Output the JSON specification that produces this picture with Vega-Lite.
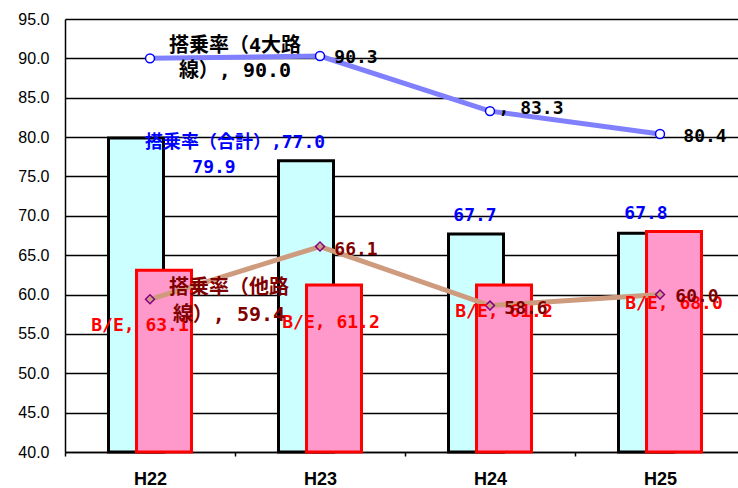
{
  "$schema": "https://vega.github.io/schema/vega-lite/v6.json",
  "autosize": "none",
  "width": 673,
  "height": 433,
  "padding": {"left": 65, "top": 19, "right": 0, "bottom": 36},
  "background": "white",
  "config": {
    "view": {"stroke": null},
    "text": {"font": "DejaVu Sans Mono, Noto Sans CJK JP", "fontSize": 18, "fontWeight": "bold", "baseline": "middle", "align": "center", "lineHeight": 26}
  },
  "data": {
    "values": [
      {"cat": "H22", "series": "合計", "value": 79.9, "label": "79.9"},
      {"cat": "H23", "series": "合計", "value": 77.0, "label": "搭乗率（合計）,77.0"},
      {"cat": "H24", "series": "合計", "value": 67.7, "label": "67.7"},
      {"cat": "H25", "series": "合計", "value": 67.8, "label": "67.8"},
      {"cat": "H22", "series": "B/E", "value": 63.1, "label": "B/E, 63.1"},
      {"cat": "H23", "series": "B/E", "value": 61.2, "label": "B/E, 61.2"},
      {"cat": "H24", "series": "B/E", "value": 61.2, "label": "B/E, 61.2"},
      {"cat": "H25", "series": "B/E", "value": 68.0, "label": "B/E, 68.0"},
      {"cat": "H22", "series": "4大路線", "value": 90.0, "label": ["搭乗率（4大路", "線）, 90.0"]},
      {"cat": "H23", "series": "4大路線", "value": 90.3, "label": "90.3"},
      {"cat": "H24", "series": "4大路線", "value": 83.3, "label": ", 83.3"},
      {"cat": "H25", "series": "4大路線", "value": 80.4, "label": "80.4"},
      {"cat": "H22", "series": "他路線", "value": 59.4, "label": ["搭乗率（他路", "線）, 59.4"]},
      {"cat": "H23", "series": "他路線", "value": 66.1, "label": "66.1"},
      {"cat": "H24", "series": "他路線", "value": 58.6, "label": "58.6"},
      {"cat": "H25", "series": "他路線", "value": 60.0, "label": "60.0"}
    ]
  },
  "encoding": {
    "x": {
      "field": "cat", "type": "nominal", "sort": null,
      "scale": {"range": [0, 680], "paddingInner": 0, "paddingOuter": 0},
      "axis": {
        "title": null, "labelAngle": 0, "labelFont": "Liberation Sans", "labelFontSize": 18, "labelFontWeight": "bold",
        "labelColor": "black", "labelPadding": 14, "domainColor": "black", "domainWidth": 1.5,
        "ticks": true, "tickBand": "extent", "tickSize": 4, "tickColor": "black", "tickWidth": 1.5, "grid": false
      }
    },
    "y": {
      "field": "value", "type": "quantitative",
      "scale": {"domain": [40, 95], "zero": false, "nice": false},
      "axis": {
        "title": null, "values": [40, 45, 50, 55, 60, 65, 70, 75, 80, 85, 90, 95], "format": ".1f",
        "labelFont": "Liberation Sans", "labelFontSize": 16, "labelColor": "black", "labelPadding": 16,
        "ticks": false, "domainColor": "black", "domainWidth": 1.5,
        "grid": true, "gridColor": "black", "gridWidth": 1.5
      }
    }
  },
  "layer": [
    {"transform": [{"filter": "datum.series == '合計'"}],
     "mark": {"type": "bar", "width": 55, "xOffset": -14, "fill": "#CCFFFF", "stroke": "black", "strokeWidth": 3},
     "encoding": {"y2": {"datum": 40}}},
    {"transform": [{"filter": "datum.series == 'B/E'"}],
     "mark": {"type": "bar", "width": 55, "xOffset": 14, "fill": "#FF99CC", "stroke": "#FF0000", "strokeWidth": 3},
     "encoding": {"y2": {"datum": 40}}},
    {"transform": [{"filter": "datum.series == '4大路線'"}],
     "mark": {"type": "line", "color": "#8080FF", "strokeWidth": 5, "strokeCap": "round"},
     "encoding": {}},
    {"transform": [{"filter": "datum.series == '4大路線'"}],
     "mark": {"type": "point", "shape": "circle", "filled": true, "fill": "white", "stroke": "#0000FF", "strokeWidth": 1.5, "size": 80, "opacity": 1},
     "encoding": {}},
    {"transform": [{"filter": "datum.series == '他路線'"}],
     "mark": {"type": "line", "color": "#CF9B7E", "strokeWidth": 5, "strokeCap": "round"},
     "encoding": {}},
    {"transform": [{"filter": "datum.series == '他路線'"}],
     "mark": {"type": "point", "shape": "diamond", "filled": false, "stroke": "#800080", "strokeWidth": 1.5, "size": 80, "opacity": 1},
     "encoding": {}},

    {"transform": [{"filter": "datum.series == '合計' && datum.cat == 'H22'"}],
     "mark": {"type": "text", "color": "#0000FF", "dx": 64, "dy": 30}, "encoding": {"text": {"field": "label"}}},
    {"transform": [{"filter": "datum.series == '合計' && datum.cat == 'H23'"}],
     "mark": {"type": "text", "color": "#0000FF", "dx": -85, "dy": -18}, "encoding": {"text": {"field": "label"}}},
    {"transform": [{"filter": "datum.series == '合計' && datum.cat == 'H24'"}],
     "mark": {"type": "text", "color": "#0000FF", "dx": -15, "dy": -18}, "encoding": {"text": {"field": "label"}}},
    {"transform": [{"filter": "datum.series == '合計' && datum.cat == 'H25'"}],
     "mark": {"type": "text", "color": "#0000FF", "dx": -14, "dy": -19}, "encoding": {"text": {"field": "label"}}},

    {"transform": [{"filter": "datum.series == 'B/E' && datum.cat == 'H22'"}],
     "mark": {"type": "text", "color": "#FF0000", "dx": -10, "dy": 56}, "encoding": {"text": {"field": "label"}}},
    {"transform": [{"filter": "datum.series == 'B/E' && datum.cat == 'H23'"}],
     "mark": {"type": "text", "color": "#FF0000", "dx": 11, "dy": 38}, "encoding": {"text": {"field": "label"}}},
    {"transform": [{"filter": "datum.series == 'B/E' && datum.cat == 'H24'"}],
     "mark": {"type": "text", "color": "#FF0000", "dx": 14, "dy": 27}, "encoding": {"text": {"field": "label"}}},
    {"transform": [{"filter": "datum.series == 'B/E' && datum.cat == 'H25'"}],
     "mark": {"type": "text", "color": "#FF0000", "dx": 14, "dy": 72}, "encoding": {"text": {"field": "label"}}},

    {"transform": [{"filter": "datum.series == '4大路線' && datum.cat == 'H22'"}],
     "mark": {"type": "text", "color": "black", "fontSize": 20, "dx": 85, "dy": -12, "lineHeight": 25}, "encoding": {"text": {"field": "label"}}},
    {"transform": [{"filter": "datum.series == '4大路線' && datum.cat == 'H23'"}],
     "mark": {"type": "text", "color": "black", "dx": 36, "dy": 2}, "encoding": {"text": {"field": "label"}}},
    {"transform": [{"filter": "datum.series == '4大路線' && datum.cat == 'H24'"}],
     "mark": {"type": "text", "color": "black", "dx": 41, "dy": -2}, "encoding": {"text": {"field": "label"}}},
    {"transform": [{"filter": "datum.series == '4大路線' && datum.cat == 'H25'"}],
     "mark": {"type": "text", "color": "black", "dx": 45, "dy": 3}, "encoding": {"text": {"field": "label"}}},

    {"transform": [{"filter": "datum.series == '他路線' && datum.cat == 'H22'"}],
     "mark": {"type": "text", "color": "#800000", "fontSize": 20, "dx": 79, "dy": -11, "lineHeight": 27}, "encoding": {"text": {"field": "label"}}},
    {"transform": [{"filter": "datum.series == '他路線' && datum.cat == 'H23'"}],
     "mark": {"type": "text", "color": "#800000", "dx": 36, "dy": 3}, "encoding": {"text": {"field": "label"}}},
    {"transform": [{"filter": "datum.series == '他路線' && datum.cat == 'H24'"}],
     "mark": {"type": "text", "color": "#800000", "dx": 36, "dy": 3}, "encoding": {"text": {"field": "label"}}},
    {"transform": [{"filter": "datum.series == '他路線' && datum.cat == 'H25'"}],
     "mark": {"type": "text", "color": "#800000", "dx": 37, "dy": 2}, "encoding": {"text": {"field": "label"}}}
  ]
}
